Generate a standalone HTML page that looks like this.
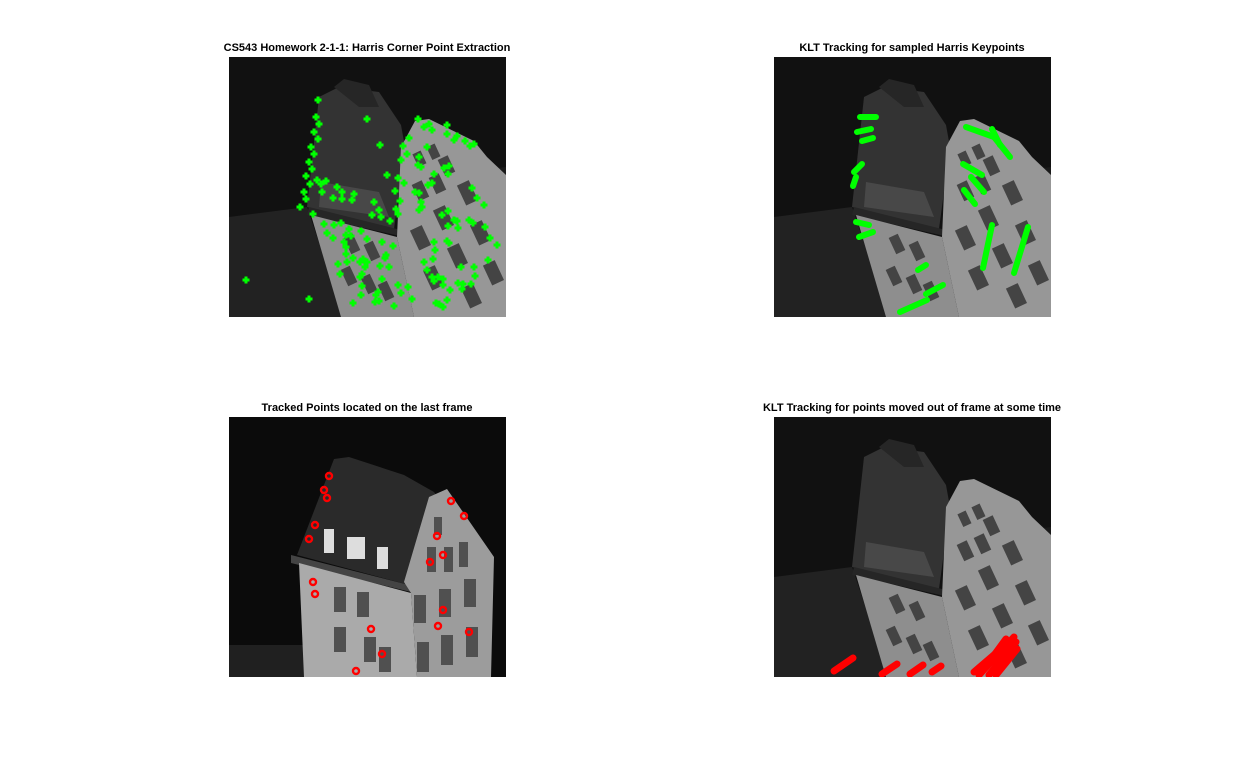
<!DOCTYPE html>
<html><head><meta charset="utf-8"><style>
html,body{margin:0;padding:0;background:#fff;}
svg{display:block;}
text{font-family:"Liberation Sans",Arial,sans-serif;font-weight:bold;font-size:11px;fill:#000;}
</style></head><body>
<svg id="fig" width="1236" height="760" viewBox="0 0 1236 760" xmlns="http://www.w3.org/2000/svg">
<defs>
<clipPath id="clipImg"><rect x="0" y="0" width="277" height="260"/></clipPath>
<g id="tilted">
  <rect width="277" height="260" fill="#111"/>
  <polygon points="0,160 78,150 115,260 0,260" fill="#222"/>
  <polygon points="277,110 260,112 265,200 277,200" fill="#1a1a1a"/>
  <polygon points="78,150 90,40 110,30 150,35 172,68 176,90 165,172" fill="#333"/>
  <polygon points="105,30 115,22 140,28 150,50 130,50" fill="#262626"/>
  <polygon points="92,125 150,135 160,160 90,150" fill="#484848"/>
  <polygon points="80,150 168,172 175,180 78,158" fill="#262626"/>
  <polygon points="82,158 168,180 185,260 112,260" fill="#8e8e8e"/>
  <polygon points="168,180 172,90 186,64 200,62 245,84 258,100 277,118 277,260 185,260" fill="#979797"/>
  <g fill="#444">
    <rect x="186" y="95" width="9" height="14" transform="rotate(-25 190 102)"/>
    <rect x="200" y="88" width="9" height="14" transform="rotate(-25 204 95)"/>
    <rect x="212" y="100" width="11" height="18" transform="rotate(-25 217 109)"/>
    <rect x="186" y="125" width="11" height="18" transform="rotate(-25 191 134)"/>
    <rect x="203" y="118" width="11" height="18" transform="rotate(-25 208 127)"/>
    <rect x="232" y="125" width="13" height="22" transform="rotate(-25 238 136)"/>
    <rect x="208" y="150" width="13" height="22" transform="rotate(-25 214 161)"/>
    <rect x="185" y="170" width="13" height="22" transform="rotate(-25 191 181)"/>
    <rect x="245" y="165" width="13" height="22" transform="rotate(-25 251 176)"/>
    <rect x="222" y="188" width="13" height="22" transform="rotate(-25 228 199)"/>
    <rect x="198" y="210" width="13" height="22" transform="rotate(-25 204 221)"/>
    <rect x="258" y="205" width="13" height="22" transform="rotate(-25 264 216)"/>
    <rect x="236" y="228" width="13" height="22" transform="rotate(-25 242 239)"/>
    <rect x="118" y="178" width="10" height="18" transform="rotate(-25 123 187)"/>
    <rect x="138" y="185" width="10" height="18" transform="rotate(-25 143 194)"/>
    <rect x="115" y="210" width="10" height="18" transform="rotate(-25 120 219)"/>
    <rect x="135" y="218" width="10" height="18" transform="rotate(-25 140 227)"/>
    <rect x="152" y="225" width="10" height="18" transform="rotate(-25 157 234)"/>
  </g>
</g>
<g id="straight">
  <rect width="277" height="260" fill="#0b0b0b"/>
  <rect x="0" y="228" width="80" height="32" fill="#202020"/>
  <polygon points="68,138 105,42 120,40 175,58 205,75 255,140 180,168" fill="#2a2a2a"/>
  <polygon points="62,138 180,168 182,175 62,146" fill="#444"/>
  <polygon points="70,146 182,176 188,260 75,260" fill="#aaa"/>
  <polygon points="182,176 175,165 200,80 218,72 265,140 262,260 188,260" fill="#9c9c9c"/>
  <g fill="#ddd"><rect x="95" y="112" width="10" height="24"/><rect x="118" y="120" width="18" height="22"/><rect x="148" y="130" width="11" height="22"/></g>
  <g fill="#505050">
    <rect x="105" y="170" width="12" height="25"/><rect x="128" y="175" width="12" height="25"/>
    <rect x="105" y="210" width="12" height="25"/><rect x="135" y="220" width="12" height="25"/>
    <rect x="150" y="230" width="12" height="25"/>
    <rect x="205" y="100" width="8" height="18"/><rect x="198" y="130" width="9" height="25"/>
    <rect x="215" y="130" width="9" height="25"/><rect x="230" y="125" width="9" height="25"/>
    <rect x="185" y="178" width="12" height="28"/><rect x="210" y="172" width="12" height="28"/>
    <rect x="235" y="162" width="12" height="28"/><rect x="188" y="225" width="12" height="30"/>
    <rect x="212" y="218" width="12" height="30"/><rect x="237" y="210" width="12" height="30"/>
  </g>
</g>
</defs>

<text x="367" y="51" text-anchor="middle">CS543 Homework 2-1-1: Harris Corner Point Extraction</text>
<text x="912" y="51" text-anchor="middle">KLT Tracking for sampled Harris Keypoints</text>
<text x="367" y="411" text-anchor="middle">Tracked Points located on the last frame</text>
<text x="912" y="411" text-anchor="middle">KLT Tracking for points moved out of frame at some time</text>

<g transform="translate(229,57)" clip-path="url(#clipImg)"><use href="#tilted"/><g id="harrisPts"></g></g>
<g transform="translate(774,57)" clip-path="url(#clipImg)"><use href="#tilted"/><g id="kltTracks"></g></g>
<g transform="translate(229,417)" clip-path="url(#clipImg)"><use href="#straight"/><g id="lastPts"></g></g>
<g transform="translate(774,417)" clip-path="url(#clipImg)"><use href="#tilted"/><g id="outTracks"></g></g>
</svg>
<script>
const NS="http://www.w3.org/2000/svg";
const harrisX=[89,87,90,85,89,82,85,80,83,77,81,88,97,75,77,71,84,92,93,108,113,113,104,125,123,138,151,158,169,166,171,175,172,178,174,180,189,195,200,203,218,218,225,228,236,241,245,190,189,198,192,205,203,186,190,192,193,215,220,219,199,190,145,150,152,143,167,161,169,243,248,255,213,219,225,228,219,229,240,244,256,261,268,95,98,105,112,120,117,104,115,122,132,138,153,157,164,156,117,117,118,124,134,136,131,138,109,111,151,133,153,160,205,206,204,195,198,203,218,220,232,245,259,246,242,209,214,205,214,229,234,221,233,131,133,132,124,150,146,147,149,165,169,172,179,183,210,214,218,207,17,80];
const harrisY=[43,60,67,75,82,90,97,105,112,119,127,123,124,135,142,150,157,127,135,130,135,142,141,137,143,62,88,118,121,134,144,126,103,97,89,81,62,70,67,73,77,68,83,79,84,89,87,100,108,90,110,117,126,135,136,145,150,111,109,117,128,153,145,153,160,158,152,164,157,131,141,148,158,154,163,164,169,171,163,166,170,181,188,167,176,168,166,172,178,181,185,179,174,182,185,198,189,201,190,197,205,201,202,210,205,205,207,217,209,217,222,210,185,193,202,205,213,220,184,186,210,210,203,219,227,220,222,224,228,226,227,233,232,220,229,238,246,244,245,238,235,249,228,236,230,242,247,250,243,246,223,242];
const lastX=[100,95,98,86,80,84,86,142,153,127,222,235,208,214,201,214,209,240];
const lastY=[59,73,81,108,122,165,177,212,237,254,84,99,119,138,145,193,209,215];
const kltX0=[86,83,88,80,79,82,85,144,152,126,192,218,189,197,190,209,240,220];
const kltY0=[60,75,84,115,129,165,180,213,237,255,70,72,107,120,133,211,216,80];
const kltX1=[102,97,99,88,82,95,99,152,169,153,220,226,208,210,201,218,254,236];
const kltY1=[60,72,81,107,120,168,175,208,228,243,80,88,118,135,147,168,170,100];
const outX0=[60,108,136,158,205,215,200,210,222];
const outY0=[254,257,257,255,258,258,255,252,258];
const outX1=[79,123,149,167,240,242,235,232,243];
const outY1=[241,247,248,249,220,225,225,222,232];

const hp=document.getElementById('harrisPts');
for(let i=0;i<harrisX.length;i++){
  const p=document.createElementNS(NS,'path');
  
  
  const x=harrisX[i],y=harrisY[i];
  p.setAttribute('d',`M${x-3.5} ${y}H${x+3.5}M${x} ${y-3.5}V${y+3.5}`);
  p.setAttribute('stroke','#00ff00');p.setAttribute('stroke-width','3');
  hp.appendChild(p);
}
const lp=document.getElementById('lastPts');
for(let i=0;i<lastX.length;i++){
  const c=document.createElementNS(NS,'circle');
  
  
  c.setAttribute('cx',lastX[i]);c.setAttribute('cy',lastY[i]);c.setAttribute('r','3');
  c.setAttribute('fill','none');c.setAttribute('stroke','#ff0000');c.setAttribute('stroke-width','2.4');
  lp.appendChild(c);
}
function tracks(g,x0,y0,x1,y1,col,w,name){
  for(let i=0;i<x0.length;i++){
    const l=document.createElementNS(NS,'line');
    
    
    l.setAttribute('x1',x0[i]);l.setAttribute('y1',y0[i]);l.setAttribute('x2',x1[i]);l.setAttribute('y2',y1[i]);
    l.setAttribute('stroke',col);l.setAttribute('stroke-width',w);l.setAttribute('stroke-linecap','round');
    g.appendChild(l);
  }
}
tracks(document.getElementById('kltTracks'),kltX0,kltY0,kltX1,kltY1,'#00ff00',6,'klt-track');
tracks(document.getElementById('outTracks'),outX0,outY0,outX1,outY1,'#ff0000',7,'out-track');
</script>
</body></html>
